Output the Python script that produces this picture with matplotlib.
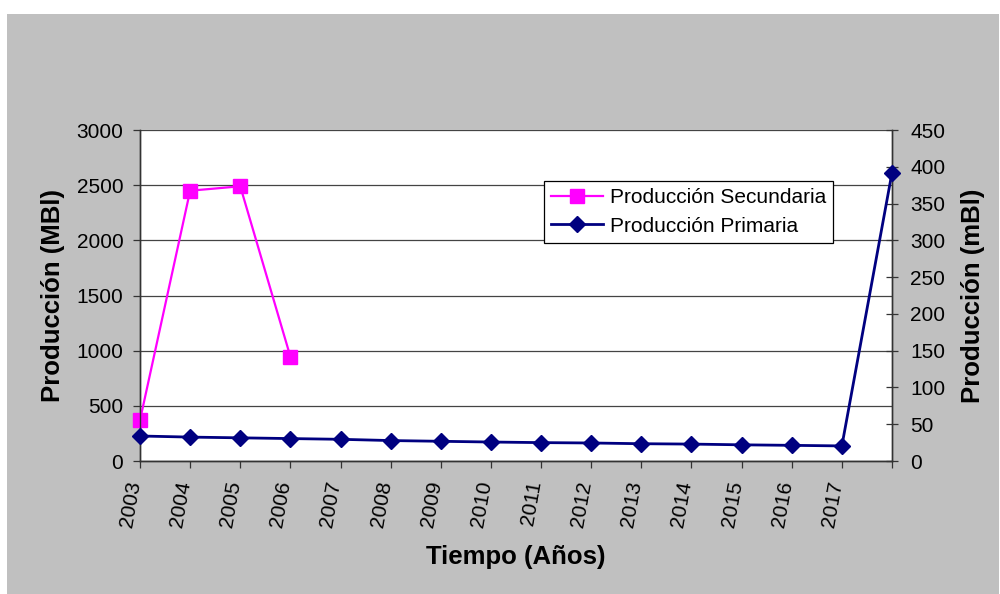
import matplotlib
matplotlib.use("Agg")
import matplotlib.pyplot as plt
from matplotlib.patches import Rectangle

plt.rcParams['font.family'] = ['Liberation Sans', 'DejaVu Sans']

# Categories (last one has no label)
years = ['2003', '2004', '2005', '2006', '2007', '2008', '2009', '2010',
         '2011', '2012', '2013', '2014', '2015', '2016', '2017', '']

# Secondary production, left axis (MBl), only first four years
sec_years = ['2003', '2004', '2005', '2006']
sec_prod = [370, 2450, 2490, 945]

# Primary production, right axis (mBl)
prim_prod = [34, 32.5, 31.5, 30.5, 29.5, 27.8, 26.8, 25.8, 25, 24.5,
             23.5, 23, 22, 21.3, 20.5, 392]

left_ticks = [0, 500, 1000, 1500, 2000, 2500, 3000]
right_ticks = [0, 50, 100, 150, 200, 250, 300, 350, 400, 450]

fig = plt.figure(figsize=(10, 5.94), dpi=100)
fig.patch.set_facecolor('white')
fig.patches.append(Rectangle((0.007, 0), 0.992, 1 - 14 / 594,
                             transform=fig.transFigure, facecolor='#C0C0C0',
                             edgecolor='none', zorder=-10))

ax = fig.add_axes([0.14, 0.2239, 0.752, 0.5572])
ax2 = ax.twinx()

x = list(range(len(years)))
x_sec = [years.index(y) for y in sec_years]

l1, = ax.plot(x_sec, sec_prod, color='#FF00FF', lw=1.6, marker='s', ms=10,
              markeredgecolor='#FF00FF', clip_on=False, zorder=3,
              label='Producción Secundaria')
l2, = ax2.plot(x, prim_prod, color='#000080', lw=2.0, marker='D', ms=8,
               markeredgecolor='#000080', clip_on=False, zorder=3,
               label='Producción Primaria')

ax.set_facecolor('white')
ax2.patch.set_visible(False)
ax.set_xlim(0, len(years) - 1)
ax.set_ylim(0, 3000)
ax2.set_ylim(0, 450)
ax.set_yticks(left_ticks)
ax2.set_yticks(right_ticks)
ax.set_xticks(x)
# slanted year labels, ending just left of each tick
ax.set_xticklabels(years, rotation=80, ha='right', va='baseline',
                   rotation_mode='anchor')

ax.yaxis.grid(True, color='#444444', lw=0.9)
ax.set_axisbelow(True)

spine_col = '#333333'
for a in (ax, ax2):
    a.spines['top'].set_visible(False)
    for s in ('left', 'right', 'bottom'):
        a.spines[s].set_color(spine_col)
        a.spines[s].set_linewidth(1.0)

ax.tick_params(axis='y', direction='out', length=5, width=0.9,
               color=spine_col, labelsize=15, pad=7)
ax.tick_params(axis='x', direction='out', length=5, width=0.9,
               color=spine_col, labelsize=15, pad=10)
ax2.tick_params(axis='y', direction='inout', length=9, width=0.9,
                color=spine_col, labelsize=15, pad=8.5)

ax.set_ylabel('Producción (MBl)', fontsize=18.5, fontweight='bold')
ax.yaxis.set_label_coords(-0.1, 0.5)
ax2.set_ylabel('Producción (mBl)', fontsize=18.5, fontweight='bold')
ax2.yaxis.set_label_coords(1.092, 0.5)
fig.text(0.516, 1 - 557 / 594, 'Tiempo (Años)', fontsize=18.5,
         fontweight='bold', ha='center', va='center')

leg = ax2.legend(handles=[l1, l2], loc='upper left',
                 bbox_to_anchor=(0.544, 1 - 181 / 594),
                 bbox_transform=fig.transFigure, fontsize=15,
                 frameon=True, fancybox=False, shadow=False,
                 borderaxespad=0, borderpad=0.35, handlelength=2.5,
                 handletextpad=0.3, labelspacing=0.45)
leg.get_frame().set_edgecolor('black')
leg.get_frame().set_linewidth(0.9)
leg.get_frame().set_facecolor('white')
leg.get_frame().set_alpha(1)

fig.savefig('out.png', dpi=100, facecolor=fig.get_facecolor())
